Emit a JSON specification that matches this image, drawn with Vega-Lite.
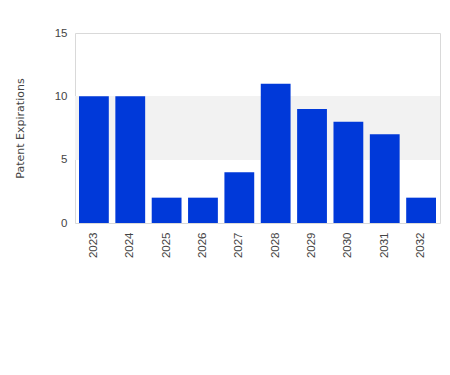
{
  "$schema": "https://vega.github.io/schema/vega-lite/v6.json",
  "width": 365,
  "height": 190,
  "autosize": {"type": "none"},
  "padding": {"left": 75, "top": 33, "right": 10, "bottom": 152},
  "config": {
    "font": "Liberation Sans",
    "view": {"stroke": "#d9d9d9", "strokeWidth": 1},
    "axis": {"labelColor": "#444444", "titleColor": "#444444", "labelFontSize": 11, "titleFontSize": 11, "titleFontWeight": "normal", "domain": false, "ticks": false}
  },
  "data": {
    "values": [
      {"year": "2023", "count": 10},
      {"year": "2024", "count": 10},
      {"year": "2025", "count": 2},
      {"year": "2026", "count": 2},
      {"year": "2027", "count": 4},
      {"year": "2028", "count": 11},
      {"year": "2029", "count": 9},
      {"year": "2030", "count": 8},
      {"year": "2031", "count": 7},
      {"year": "2032", "count": 2}
    ]
  },
  "layer": [
    {
      "mark": {"type": "rect", "color": "#f2f2f2"},
      "encoding": {
        "y": {"datum": 5, "type": "quantitative"},
        "y2": {"datum": 10}
      }
    },
    {
      "mark": {"type": "bar", "color": "#0039d9"},
      "encoding": {
        "x": {
          "field": "year", "type": "ordinal",
          "scale": {"paddingInner": 0.18, "paddingOuter": 0.11},
          "axis": {"title": null, "labelAngle": -90, "labelPadding": 9, "labelFontSize": 11.5, "grid": false}
        },
        "y": {
          "field": "count", "type": "quantitative",
          "scale": {"domain": [0, 15], "nice": false},
          "axis": {"title": "Patent Expirations", "titleFont": "DejaVu Sans", "titleFontSize": 11, "values": [0, 5, 10, 15], "labelFontSize": 11.5, "labelPadding": 8, "titlePadding": 29, "gridColor": "#ebebeb"}
        }
      }
    }
  ]
}
